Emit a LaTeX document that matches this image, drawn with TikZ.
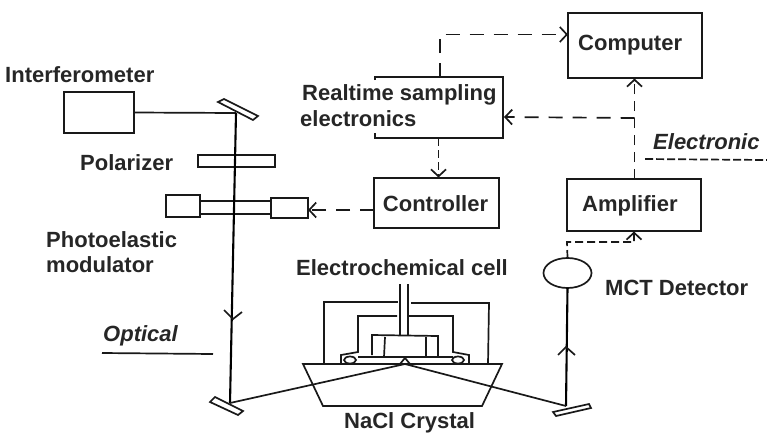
\documentclass[tikz,border=0pt]{standalone}
\usepackage{fontspec}
\setmainfont{Liberation Sans}
\usetikzlibrary{arrows.meta,shapes.geometric}
\tikzset{
  line/.style={draw=black!90,line width=1.7pt},
  thickbeam/.style={draw=black,line width=2.1pt},
  boxnode/.style={line,minimum width=0pt,minimum height=0pt,inner sep=0pt,outer sep=0pt,anchor=north west},
  lbl/.style={font=\fontsize{22}{24}\selectfont\bfseries,text=black!85,inner sep=0pt},
  lblit/.style={font=\fontsize{22}{24}\selectfont\bfseries\itshape,text=black!85,inner sep=0pt},
  dashline/.style={line,dash pattern=on 14pt off 10pt},
  openhead/.style={-{Straight Barb[length=7pt,width=15pt,line width=1.7pt]}}
}
\newcommand{\boxat}[5][]{\node[boxnode,minimum width=#4pt,minimum height=#5pt,#1] (#2) at #3 {};}
\begin{document}
\begin{tikzpicture}[x=1pt,y=-1pt]
\useasboundingbox (0,0) rectangle (767,434);
% boxes
\boxat{interf}{(64,92)}{70}{41}
\boxat{polar}{(198,155)}{77}{12}
\boxat{pemL}{(166,195)}{34}{22}
\boxat{pemBar}{(200,201)}{71}{13}
\boxat{pemR}{(271,198)}{37}{20}
\boxat{control}{(374,178)}{125}{50}
\boxat{computer}{(568,13)}{134}{65}
\boxat{amp}{(567,179)}{134}{52}
\node[line,ellipse,minimum width=48pt,minimum height=30pt,inner sep=0pt,outer sep=0pt] (det) at (567.5,273) {};
% realtime open box
\coordinate (rtA) at (375,80);
\coordinate (rtB) at (375,77);
\coordinate (rtC) at (503,77);
\coordinate (rtD) at (503,138);
\coordinate (rtE) at (375,138);
\coordinate (rtF) at (375,133);
\draw[line] (rtA)--(rtB)--(rtC)--(rtD)--(rtE)--(rtF);
% mirrors and beams
\coordinate (mTop) at (236,113);
\coordinate (mL) at (230,403);
\coordinate (mR) at (566,406);
\draw[line] (interf.east) -- (mTop);
\draw[thickbeam] (mTop) -- (mL);
\draw[line,fill=white] (218,102)--(224,99)--(258,116)--(253,120)--cycle;
\draw[line] (224,310)--(233,319)--(242,312);
\draw[thickbeam] (det.south) -- (mR);
\draw[line] (558,355)--(566,347)--(575,355);
\draw[line,fill=white] (210,402)--(215,397)--(243,411)--(238,415)--cycle;
\draw[line,fill=white] (553,412)--(589,404)--(591,408)--(556,416)--cycle;
% cell
\draw[line] (324,364)--(324,302)--(398,302);
\draw[line] (411,303)--(489,303)--(488,364);
\draw[line] (400,284)--(400,336);
\draw[line] (408,284)--(408,336);
\draw[line] (397,316)--(358,316)--(358,352)--(341,355)--(341,364);
\draw[line] (409,316)--(453,316)--(453,352)--(469,355)--(469,364);
\draw[line] (358,357)--(453,357);
\draw[line] (372,355)--(372,335)--(438,336)--(438,356);
\draw[line] (385,337)--(384,357);
\draw[line] (426,337)--(426,357);
\node[line,ellipse,minimum width=12pt,minimum height=7pt,inner sep=0pt] (ringL) at (350,360) {};
\node[line,ellipse,minimum width=12pt,minimum height=7pt,inner sep=0pt] (ringR) at (458,360) {};
\draw[line,fill=white] (400,364)--(405,358)--(410,364);
% crystal
\coordinate (cA) at (303,364);
\coordinate (cB) at (502,364);
\coordinate (cC) at (482,406);
\coordinate (cD) at (323,406);
\draw[line] (cA)--(cB)--(cC)--(cD)--cycle;
\coordinate (spot) at (405,364);
\draw[line] (mL)--(spot)--(mR);
% dashed
\coordinate (rtTop) at (440,77);
\coordinate (c1) at (440,34.5);
\draw[dashline,openhead] (rtTop)--(c1)--(computer.west |- c1);
\coordinate (amT) at (634.5,179);
\coordinate (j) at (634.5,118);
\coordinate (cB2) at (634.5,78.5);
\draw[dashline,dash pattern=on 10pt off 7pt,openhead] (amT)--(cB2);
\draw[dashline,openhead] (j)--(504,117);
\coordinate (rtB2) at (438.5,138);
\coordinate (coT) at (438.5,177.5);
\draw[dashline,dash pattern=on 8pt off 4pt,openhead] (rtB2)--(coT);
\coordinate (coW) at (374,210);
\coordinate (peE) at (308,210);
\draw[dashline,openhead] (coW)--(peE);
\coordinate (d1) at (567,242);
\coordinate (d2) at (634,242);
\coordinate (d3) at (634,231.5);
\draw[dashline,dash pattern=on 8pt off 4pt,openhead] (det.north)--(d1)--(d2)--(d3);
% legend lines
\coordinate (eL) at (645,159);
\coordinate (eR) at (767,160);
\draw[line,dash pattern=on 8pt off 3pt] (eL)--(eR);
\coordinate (oL) at (102,353);
\coordinate (oR) at (213,354);
\draw[line] (oL)--(oR);
% labels
\node[lbl,anchor=west] (tInterf) at (5,75) {Interferometer};
\node[lbl,anchor=west] (tPolar) at (80,163) {Polarizer};
\node[lbl,anchor=west] (tPhoto) at (46,240) {Photoelastic};
\node[lbl,anchor=west] (tMod) at (46,265) {modulator};
\node[lbl,anchor=west] (tRt) at (302,95) {Realtime sampling};
\node[lbl,anchor=west] (tEl) at (300,119) {electronics};
\node[lbl,anchor=center] (tCo) at (435.5,204) {Controller};
\node[lbl,anchor=west] (tCom) at (578,45) {Computer};
\node[lbl,anchor=west] (tAmp) at (582,206) {Amplifier};
\node[lblit,anchor=west] (tE) at (653,142) {Electronic};
\node[lblit,anchor=west] (tO) at (103,336) {Optical};
\node[lbl,anchor=west] (tCell) at (296,268) {Electrochemical cell};
\node[lbl,anchor=west] (tMct) at (605,288) {MCT Detector};
\node[lbl,anchor=west] (tNa) at (344,423) {NaCl Crystal};
\end{tikzpicture}
\end{document}
